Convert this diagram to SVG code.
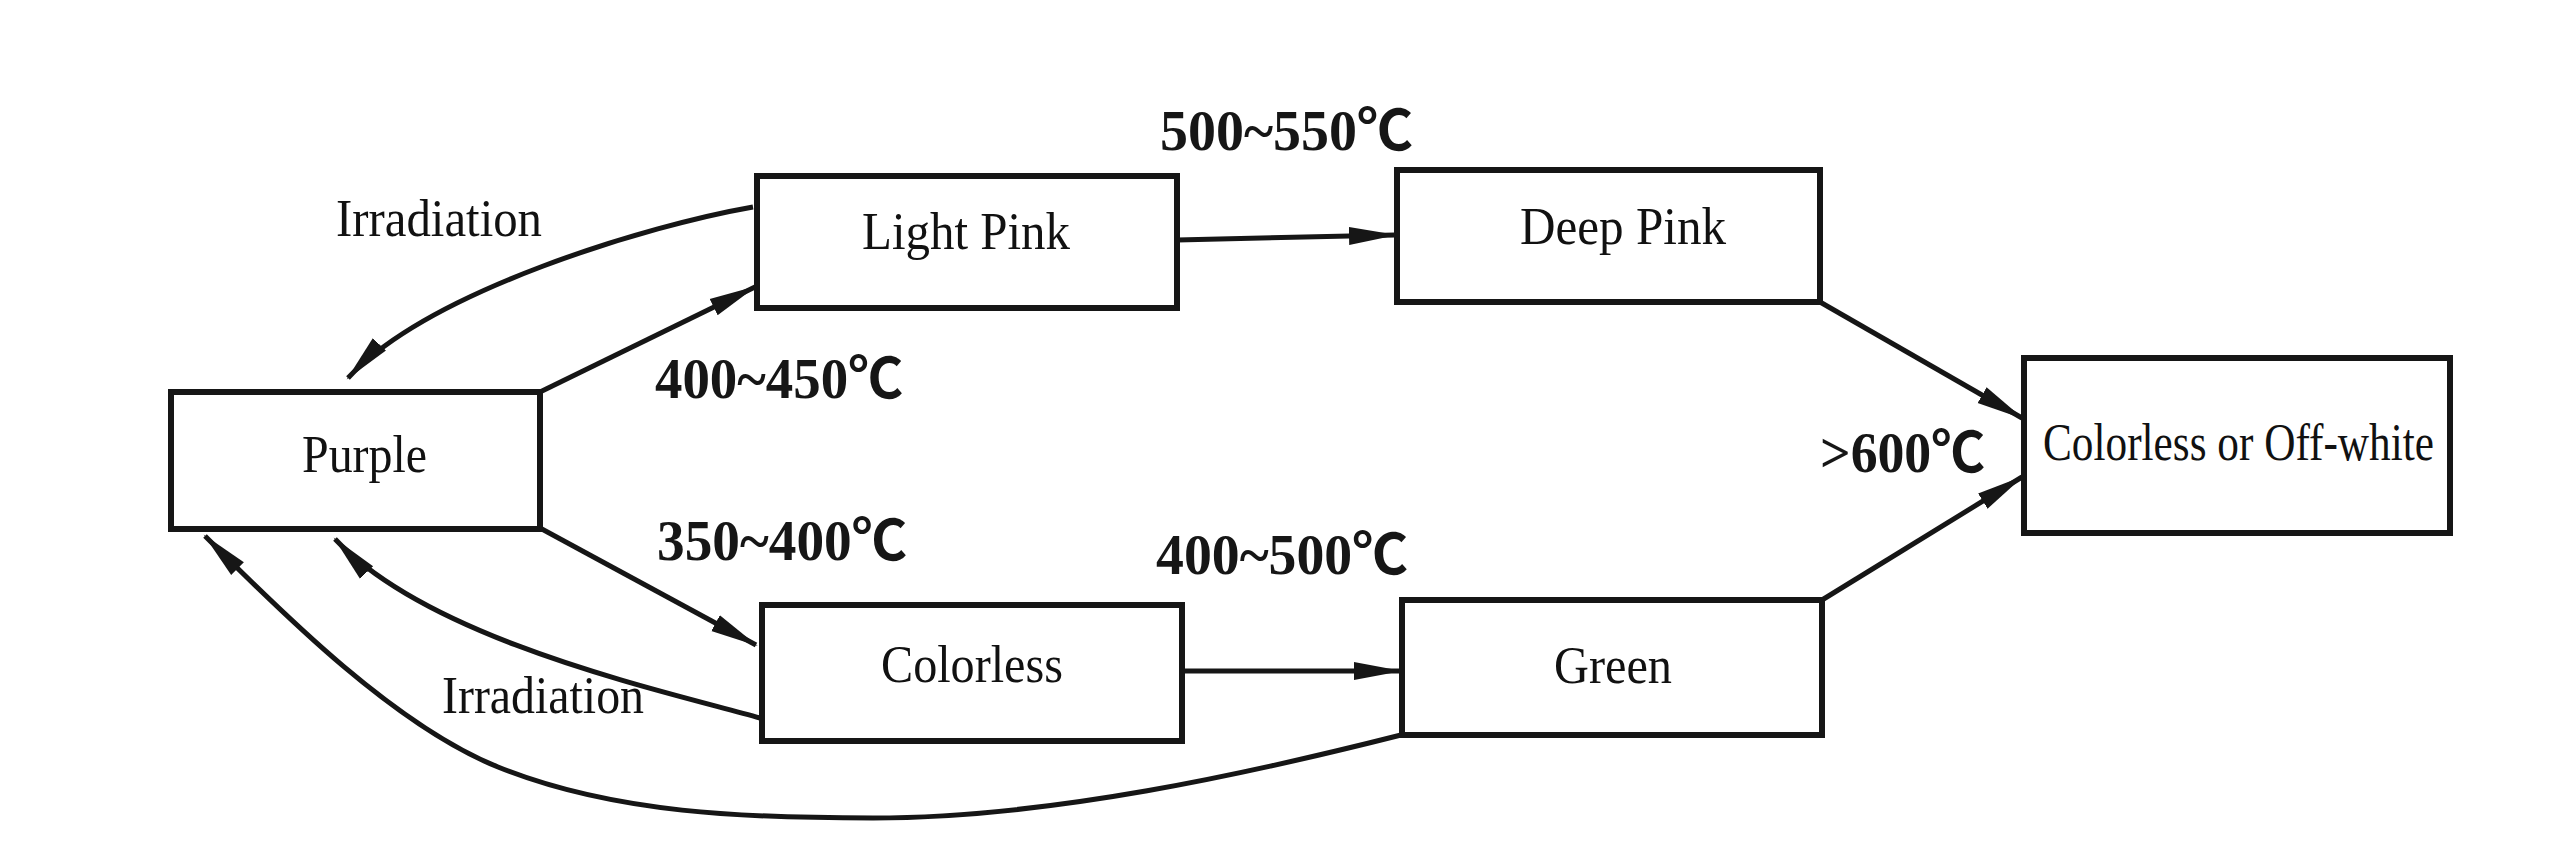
<svg xmlns="http://www.w3.org/2000/svg" width="2560" height="866" viewBox="0 0 2560 866">
  <style>
    .box { fill: #ffffff; stroke: #161616; stroke-width: 6; }
    .lbl { font-family: "Liberation Serif", "Times New Roman", serif; font-size: 53px; fill: #111111; }
    .tmp { font-family: "Liberation Serif", "Noto Sans CJK SC", serif; font-size: 56px; font-weight: bold; fill: #161616; }
    .edge { fill: none; stroke: #161616; stroke-width: 5; }
  </style>
  <defs>
    <marker id="ah" markerUnits="userSpaceOnUse" markerWidth="50" markerHeight="20" viewBox="0 0 50 20" refX="46" refY="10" orient="auto">
      <path d="M0,1 L48,10 L0,19 Z" fill="#161616"/>
    </marker>
  </defs>
  <rect width="2560" height="866" fill="#ffffff"/>

  <g id="connectors">
    <path class="edge" d="M753,207 C650,225 430,290 348,378" marker-end="url(#ah)"/>
    <path class="edge" d="M540,392 L755,287" marker-end="url(#ah)"/>
    <path class="edge" d="M540,528 L756,645" marker-end="url(#ah)"/>
    <path class="edge" d="M760,718 C660,690 430,640 335,539" marker-end="url(#ah)"/>
    <path class="edge" d="M1401,735 C1251,773 1050,818 873,818 C748,818 614,814 498,767 C396,726 285,616 205,536" marker-end="url(#ah)"/>
    <path class="edge" d="M1177,240 L1395,235" marker-end="url(#ah)"/>
    <path class="edge" d="M1182,671 L1400,671" marker-end="url(#ah)"/>
    <path class="edge" d="M1820,302 L2022,418" marker-end="url(#ah)"/>
    <path class="edge" d="M1822,600 L2022,477" marker-end="url(#ah)"/>
  </g>

  <g id="edge-labels">
    <text class="lbl" x="336" y="236" font-size="54" textLength="206" lengthAdjust="spacingAndGlyphs">Irradiation</text>
    <text class="lbl" x="442" y="713" font-size="54" textLength="202" lengthAdjust="spacingAndGlyphs">Irradiation</text>
    <text class="tmp" x="1160" y="150" textLength="253" lengthAdjust="spacingAndGlyphs">500~550℃</text>
    <text class="tmp" x="655" y="398" textLength="248" lengthAdjust="spacingAndGlyphs">400~450℃</text>
    <text class="tmp" x="657" y="560" textLength="250" lengthAdjust="spacingAndGlyphs">350~400℃</text>
    <text class="tmp" x="1156" y="574" textLength="252" lengthAdjust="spacingAndGlyphs">400~500℃</text>
    <text class="tmp" x="1820" y="472" textLength="165" lengthAdjust="spacingAndGlyphs">&gt;600℃</text>
  </g>

  <g id="node-purple">
    <rect class="box" x="171" y="392" width="369" height="137"/>
    <text class="lbl" x="302" y="472" textLength="125" lengthAdjust="spacingAndGlyphs">Purple</text>
  </g>
  <g id="node-light-pink">
    <rect class="box" x="757" y="176" width="420" height="132"/>
    <text class="lbl" x="862" y="249" textLength="208" lengthAdjust="spacingAndGlyphs">Light Pink</text>
  </g>
  <g id="node-deep-pink">
    <rect class="box" x="1397" y="170" width="423" height="132"/>
    <text class="lbl" x="1520" y="244" textLength="206" lengthAdjust="spacingAndGlyphs">Deep Pink</text>
  </g>
  <g id="node-colorless">
    <rect class="box" x="762" y="605" width="420" height="136"/>
    <text class="lbl" x="881" y="682" textLength="182" lengthAdjust="spacingAndGlyphs">Colorless</text>
  </g>
  <g id="node-green">
    <rect class="box" x="1402" y="600" width="420" height="135"/>
    <text class="lbl" x="1554" y="683" textLength="118" lengthAdjust="spacingAndGlyphs">Green</text>
  </g>
  <g id="node-offwhite">
    <rect class="box" x="2024" y="358" width="426" height="175"/>
    <text class="lbl" x="2043" y="460" font-size="43" textLength="391" lengthAdjust="spacingAndGlyphs">Colorless or Off-white</text>
  </g>
</svg>
